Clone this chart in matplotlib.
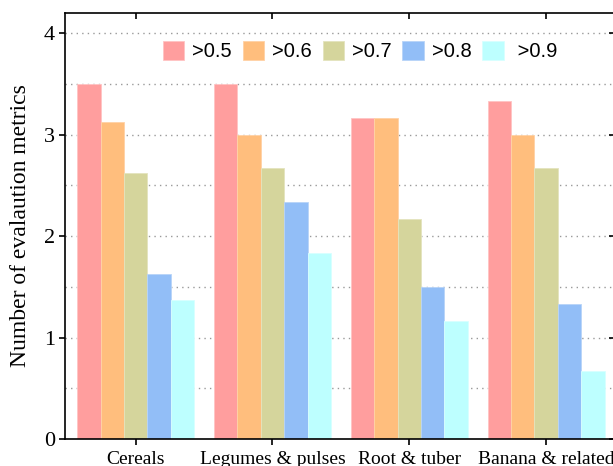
import matplotlib
matplotlib.use("Agg")
import matplotlib.pyplot as plt
import numpy as np

categories = ["Cereals", "Legumes & pulses", "Root & tuber", "Banana & related"]
series_labels = [">0.5", ">0.6", ">0.7", ">0.8", " >0.9"]
gt05 = [3.5, 3.5, 3.167, 3.333]
gt06 = [3.125, 3.0, 3.167, 3.0]
gt07 = [2.625, 2.667, 2.167, 2.667]
gt08 = [1.625, 2.333, 1.5, 1.333]
gt09 = [1.375, 1.833, 1.167, 0.667]
series = [gt05, gt06, gt07, gt08, gt09]

colors = ["#FF9E9E", "#FFBE7D", "#D5D59C", "#92BEF7", "#BDFFFF"]
edges = ["#FFC4C4", "#FFD2A6", "#E4E4BE", "#B8D4F8", "#D8FFFF"]

fig = plt.figure(figsize=(6.13, 4.66), dpi=100)
ax = fig.add_axes([64.5 / 613, 27 / 466, 550 / 613, 426 / 466])

x = np.arange(len(categories))
bw = 0.171
for i, (vals, c, ec, lab) in enumerate(zip(series, colors, edges, series_labels)):
    ax.bar(x + (i - 2) * bw, vals, width=bw, color=c, edgecolor=ec,
           linewidth=0.6, label=lab, zorder=2)

ax.set_xlim(-0.52, 3.5)
ax.set_ylim(0, 4.2)
ax.set_xticks(x)
ax.set_xticklabels(categories, family="Liberation Serif", fontsize=14)
ax.set_yticks([0, 1, 2, 3, 4])
ax.set_yticklabels(["0", "1", "2", "3", "4"], family="Liberation Serif", fontsize=16)
ax.set_ylabel("Number of evalaution metrics", family="Liberation Serif",
              fontsize=17, labelpad=9)

for yv in np.arange(0.5, 4.01, 0.5):
    ax.axhline(yv, color="#999999", linestyle=(0, (1, 3)), linewidth=1.0, zorder=1)

for s in ax.spines.values():
    s.set_linewidth(1.2)
ax.tick_params(axis="both", which="major", direction="out", length=4, width=1.2,
               top=True, right=True, labeltop=False, labelright=False)
ax.tick_params(axis="x", pad=5)
ax.tick_params(axis="y", pad=3)
# mirrored ticks on top/right point inward
for t in ax.xaxis.get_major_ticks():
    t.tick2line.set_marker(3)
for t in ax.yaxis.get_major_ticks():
    t.tick2line.set_marker(0)

leg = ax.legend(loc="upper center", bbox_to_anchor=(0.537, 0.953), ncol=5,
                frameon=False, prop={"family": "Liberation Sans", "size": 14.5},
                handlelength=1.05, handleheight=1.05, handletextpad=0.4,
                columnspacing=0.55, borderaxespad=0)

fig.savefig("out.png", dpi=100)
